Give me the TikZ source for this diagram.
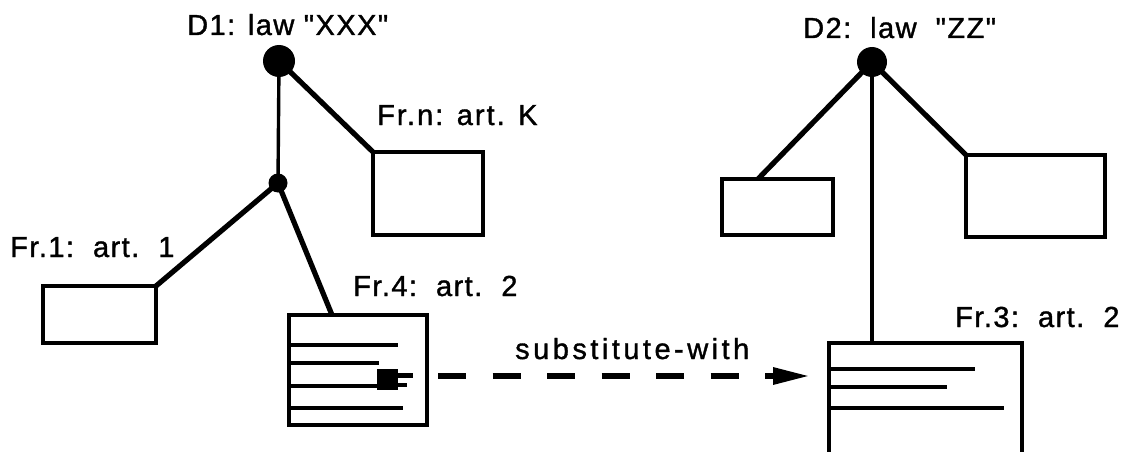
\documentclass[tikz,border=0pt]{standalone}
\usepackage{fontspec}
\setmainfont{Liberation Sans}[Ligatures=TeXOff,FakeBold=1.2]
\usetikzlibrary{arrows.meta,calc}
\begin{document}
\begin{tikzpicture}[x=1pt,y=-1pt,
  box/.style={draw,line width=3.8pt,inner sep=0,outer sep=0,rectangle},
  dotn/.style={circle,fill=black,inner sep=0,outer sep=0},
  thick line/.style={line width=5.2pt},
  thin line/.style={line width=3.4pt},
  txt line/.style={line width=3.6pt},
  lbl/.style={anchor=base west,inner sep=0,font=\fontsize{29}{30}\selectfont\addfontfeatures{LetterSpace=5}},
  rel/.style={anchor=base west,inner sep=0,font=\fontsize{29}{30}\selectfont\addfontfeatures{LetterSpace=12}}]
\clip (0,0) rectangle (1128,452);
\fill[white] (0,0) rectangle (1128,452);
% dots
\node[dotn,minimum size=32pt] (d1) at (279,61) {};
\node[dotn,minimum size=19pt] (j1) at (278,183) {};
\node[dotn,minimum size=30pt] (d2) at (872,62) {};
% boxes
\node[box,minimum width=110pt,minimum height=83pt] (frn) at (428,193.5) {};
\node[box,minimum width=113pt,minimum height=57pt] (fr1) at (99.5,314.5) {};
\node[box,minimum width=138pt,minimum height=110pt] (fr4) at (358,370) {};
\node[box,minimum width=193pt,minimum height=114pt] (fr3) at (925.5,400) {};
\node[box,minimum width=111pt,minimum height=56pt] (boxa) at (777.5,207) {};
\node[box,minimum width=139pt,minimum height=82pt] (boxb) at (1035.5,196) {};
% labels
\node[lbl] (l1) at (187,35) {D1: law "XXX"};
\node[lbl,font=\fontsize{29}{30}\selectfont\addfontfeatures{LetterSpace=7}] (ln) at (377,125) {Fr.n: art. K};
\node[lbl] (l1a) at (10,257) {Fr.1:\ \ art.\ \ 1};
\node[lbl] (l4) at (353,296) {Fr.4:\ \ art.\ \ 2};
\node[lbl] (l3) at (955,327) {Fr.3:\ \ art.\ \ 2};
\node[lbl] (l2) at (803,38) {D2:\ \ law\ \ "ZZ"};
\node[rel] (ls) at (515,359) {substitute-with};
% connectors
\coordinate (c4) at (332,315);
\coordinate (ca) at (758,179);
\draw[thick line] (d1.center) -- (frn.north west);
\draw[thin line] (d1.center) -- (j1.center);
\draw[thick line] (j1.center) -- (fr1.north east);
\draw[thick line] (j1.center) -- (c4);
\draw[thick line] (d2.center) -- (ca);
\draw[thick line] (d2.center) -- (boxb.north west);
\draw[thin line] (d2.center) -- (d2.center |- fr3.north);
% text lines in Fr.4
\draw[txt line] (fr4.west |- 0,345) -- (398,345);
\draw[txt line] (fr4.west |- 0,363) -- (379,363);
\draw[txt line] (fr4.west |- 0,386) -- (380,386);
\draw[txt line] (fr4.west |- 0,408) -- (403,408);
\node[fill=black,inner sep=0,minimum width=21pt,minimum height=21pt] (sq) at (387.5,379.5) {};
\draw[line width=5pt] (sq.east |- 0,375) -- (413,375);
\draw[line width=3.4pt] (sq.east |- 0,385) -- (407,385);
% text lines in Fr.3
\draw[txt line] (fr3.west |- 0,369) -- (975,369);
\draw[txt line] (fr3.west |- 0,387) -- (947,387);
\draw[txt line] (fr3.west |- 0,408) -- (1004,408);
% substitute arrow
\coordinate (tip) at (810,376);
\draw[line width=6pt,dash pattern=on 28pt off 26.5pt,-{Triangle[length=37pt,width=16pt]}] (438,376) -- (tip);
\end{tikzpicture}
\end{document}
